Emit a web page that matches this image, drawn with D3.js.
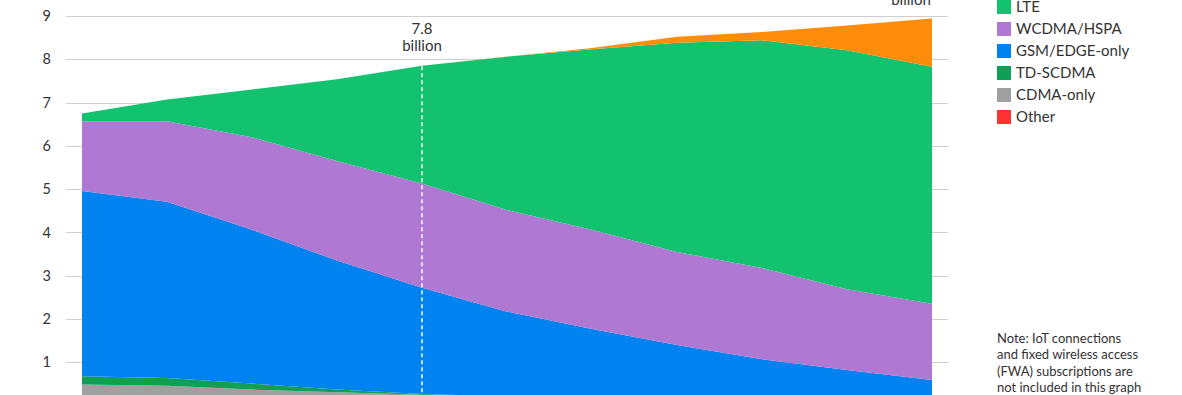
<!DOCTYPE html>
<html>
<head>
<meta charset="utf-8">
<script src="https://cdn.jsdelivr.net/npm/d3@7"></script>
<style>
  html, body { margin: 0; padding: 0; background: #fff; overflow: hidden; }
  svg { display: block; font-family: Lato, "Open Sans", "Noto Sans", sans-serif; }
</style>
</head>
<body>
<svg id="chart" width="1182" height="395"></svg>
<script>
// ---- data (billions) ----
const years = ["2013","2014","2015","2016","2017","2018","2019","2020","2021","2022","2023"];
const other    = [0.05,0.05,0.04,0.04,0.03,0.03,0.03,0.02,0.02,0.02,0.02];
const cdmaOnly = [0.44,0.41,0.33,0.27,0.22,0.17,0.13,0.11,0.08,0.06,0.04];
const tdScdma  = [0.19,0.18,0.14,0.06,0.02,0.01,0.01,0.01,0.01,0.01,0.01];
const gsmEdge  = [4.28,4.07,3.55,2.98,2.45,1.96,1.60,1.26,0.96,0.73,0.52];
const wcdmaHspa= [1.61,1.86,2.14,2.30,2.41,2.35,2.29,2.15,2.11,1.87,1.76];
const lte      = [0.18,0.50,1.10,1.89,2.72,3.54,4.17,4.83,5.26,5.52,5.48];
const fiveG    = [0,0,0,0,0,0.005,0.03,0.14,0.19,0.57,1.11];
const yTicks   = [1,2,3,4,5,6,7,8,9];
const legendLabels = ["LTE","WCDMA/HSPA","GSM/EDGE-only","TD-SCDMA","CDMA-only","Other"];
const noteLines = ["Note: IoT connections","and fixed wireless access","(FWA) subscriptions are","not included in this graph"];
const markYear = "2017", markLabel = ["7.8","billion"];
const endLabel = ["8.9","billion"];

const seriesKeys = ["Other","CDMA-only","TD-SCDMA","GSM/EDGE-only","WCDMA/HSPA","LTE","5G"];
const seriesVals = [other, cdmaOnly, tdScdma, gsmEdge, wcdmaHspa, lte, fiveG];
const colors = {"5G":"#ff8c0a","LTE":"#12c26f","WCDMA/HSPA":"#af78d2","GSM/EDGE-only":"#0082f0",
                "TD-SCDMA":"#0fa055","CDMA-only":"#a0a0a0","Other":"#ff3232"};

const table = years.map((y,i) => {
  const r = {year: y};
  seriesKeys.forEach((k,j) => r[k] = seriesVals[j][i]);
  return r;
});

const svg = d3.select("#chart");
const x = d3.scalePoint().domain(years).range([82, 932]);
const y = d3.scaleLinear().domain([0, 9]).range([405.6, 16]);

// gridlines
svg.append("g").selectAll("line").data(yTicks).join("line")
  .attr("x1", 66).attr("x2", 948)
  .attr("y1", d => Math.round(y(d)) + 0.5).attr("y2", d => Math.round(y(d)) + 0.5)
  .attr("stroke", "#cfcfcf").attr("stroke-width", 1);

// y labels
svg.append("g").selectAll("text").data(yTicks).join("text")
  .attr("x", 51).attr("y", d => y(d)).attr("dy", "0.35em")
  .attr("text-anchor", "end").attr("font-size", 14.5).attr("fill", "#333")
  .text(d => d);

// stacked areas
const stack = d3.stack().keys(seriesKeys);
const layers = stack(table);
const area = d3.area()
  .x(d => x(d.data.year)).y0(d => y(d[0])).y1(d => y(d[1]))
  .curve(d3.curveLinear);
svg.append("g").selectAll("path").data(layers).join("path")
  .attr("fill", d => colors[d.key]).attr("d", area);

// marker line
const mx = x(markYear);
svg.append("line").attr("x1", mx).attr("x2", mx).attr("y1", y(8)).attr("y2", 400)
  .attr("stroke", "#fff").attr("stroke-width", 1.5).attr("stroke-dasharray", "4,3");
svg.append("text").attr("x", mx).attr("y", 34).attr("text-anchor", "middle")
  .attr("font-size", 15).attr("fill", "#333").text(markLabel[0]);
svg.append("text").attr("x", mx).attr("y", 51).attr("text-anchor", "middle")
  .attr("font-size", 15).attr("fill", "#333").text(markLabel[1]);

// end label (mostly cut off at the top, as in the reference)
const ex = x(years[years.length - 1]) - 21;
svg.append("text").attr("x", ex).attr("y", -12).attr("text-anchor", "middle")
  .attr("font-size", 15).attr("fill", "#333").text(endLabel[0]);
svg.append("text").attr("x", ex).attr("y", 5).attr("text-anchor", "middle")
  .attr("font-size", 15).attr("fill", "#333").text(endLabel[1]);

// legend
const lg = svg.append("g");
legendLabels.forEach((k, i) => {
  const cy = 7 + i * 22;
  lg.append("rect").attr("x", 997).attr("y", cy - 7).attr("width", 14).attr("height", 14)
    .attr("fill", colors[k]);
  lg.append("text").attr("x", 1016).attr("y", cy).attr("dy", "0.36em")
    .attr("font-size", 15).attr("fill", "#333").text(k);
});

// note
svg.append("g").selectAll("text").data(noteLines).join("text")
  .attr("x", 997).attr("y", (d, i) => 343 + i * 16.3)
  .attr("font-size", 13).attr("fill", "#333").text(d => d);
</script>
</body>
</html>
